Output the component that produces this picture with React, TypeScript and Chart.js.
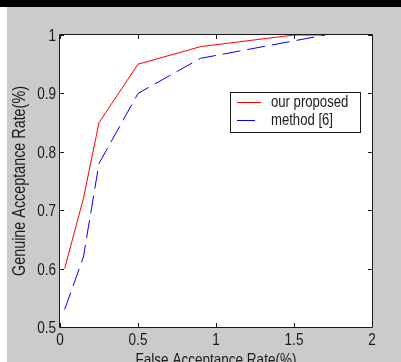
import React, { useEffect, useRef } from "react";
import { Chart, registerables } from "chart.js";

Chart.register(...registerables);

// Tick labels
const xTicks = [0, 0.5, 1, 1.5, 2];
const yTicks = [0.5, 0.6, 0.7, 0.8, 0.9, 1];

// Series: False Acceptance Rate (x) vs Genuine Acceptance Rate (y)
const farProposed = [0.03, 0.15, 0.25, 0.5, 0.9, 1.5, 1.7];
const garProposed = [0.6, 0.72, 0.85, 0.95, 0.98, 1.0, 1.0];
const farMethod6 = [0.03, 0.15, 0.25, 0.5, 0.9, 1.7];
const garMethod6 = [0.53, 0.62, 0.78, 0.9, 0.96, 1.0];

const seriesLabels = ["our proposed", "method [6]"];
const seriesColors = ["#ff0000", "#0000ff"];
const seriesDash = [[], [18, 7]];
const xTitle = "False Acceptance Rate(%)";
const yTitle = "Genuine Acceptance Rate(%)";

const FONT = "'Liberation Sans', Arial, Helvetica, sans-serif";
const INK = "#1a1a1a";
const SQUEEZE = 0.82; // narrow, tall glyphs like the original's screen font

const fmt = (v: number) => String(+Number(v).toFixed(2));

function narrowText(
  ctx: CanvasRenderingContext2D,
  text: string,
  x: number,
  y: number,
  size: number,
  align: CanvasTextAlign,
  baseline: CanvasTextBaseline,
  rotate = 0
) {
  ctx.save();
  ctx.translate(x, y);
  if (rotate) ctx.rotate(rotate);
  ctx.scale(SQUEEZE, 1);
  ctx.font = `${size}px ${FONT}`;
  ctx.fillStyle = INK;
  ctx.textAlign = align;
  ctx.textBaseline = baseline;
  ctx.fillText(text, 0, 0);
  ctx.restore();
}

export default function App() {
  const ref = useRef<HTMLCanvasElement>(null);

  useEffect(() => {
    const canvas = ref.current;
    if (!canvas) return;

    const frame = {
      id: "frame",
      afterDatasetsDraw(chart: any) {
        const { ctx, chartArea } = chart;
        const { left, right, top, bottom } = chartArea;
        const xs = chart.scales.x;
        const ys = chart.scales.y;
        ctx.save();
        ctx.strokeStyle = INK;
        ctx.lineWidth = 1;
        ctx.setLineDash([]);
        ctx.beginPath();
        ctx.rect(Math.round(left) - 0.5, Math.round(top) - 0.5, Math.round(right - left) + 1, Math.round(bottom - top) + 1);
        ctx.stroke();
        const tl = 4;
        ctx.beginPath();
        xTicks.forEach((v) => {
          const px = Math.round(xs.getPixelForValue(v)) + 0.5;
          ctx.moveTo(px, bottom);
          ctx.lineTo(px, bottom - tl);
          ctx.moveTo(px, top);
          ctx.lineTo(px, top + tl);
        });
        yTicks.forEach((v) => {
          const py = Math.round(ys.getPixelForValue(v)) + 0.5;
          ctx.moveTo(left, py);
          ctx.lineTo(left + tl, py);
          ctx.moveTo(right, py);
          ctx.lineTo(right - tl, py);
        });
        ctx.stroke();
        ctx.restore();
      },
    };

    const axisText = {
      id: "axisText",
      afterDraw(chart: any) {
        const { ctx, chartArea } = chart;
        const xs = chart.scales.x;
        const ys = chart.scales.y;
        xTicks.forEach((v) => {
          narrowText(ctx, fmt(v), xs.getPixelForValue(v), chartArea.bottom + 18, 16.5, "center", "alphabetic");
        });
        yTicks.forEach((v) => {
          narrowText(ctx, fmt(v), chartArea.left - 4, ys.getPixelForValue(v) + 6, 16.5, "right", "alphabetic");
        });
        narrowText(ctx, xTitle, (chartArea.left + chartArea.right) / 2, chartArea.bottom + 38, 16.5, "center", "alphabetic");
        narrowText(ctx, yTitle, 20.5, (chartArea.top + chartArea.bottom) / 2, 17.5, "center", "middle", -Math.PI / 2);
      },
    };

    const legendBox = {
      id: "legendBox",
      afterDraw(chart: any) {
        const { ctx } = chart;
        const bx = 230.5, by = 92.5, bw = 130, bh = 40;
        ctx.save();
        ctx.setLineDash([]);
        ctx.fillStyle = "#ffffff";
        ctx.fillRect(bx, by, bw, bh);
        ctx.strokeStyle = INK;
        ctx.lineWidth = 1;
        ctx.strokeRect(bx, by, bw, bh);
        const rows = [102.5, 120.5];
        seriesLabels.forEach((label, i) => {
          ctx.beginPath();
          ctx.strokeStyle = seriesColors[i];
          ctx.lineWidth = 1;
          ctx.setLineDash(seriesDash[i]);
          ctx.moveTo(237, rows[i]);
          ctx.lineTo(261, rows[i]);
          ctx.stroke();
          ctx.setLineDash([]);
          narrowText(ctx, label, 271, rows[i], 16, "left", "middle");
        });
        ctx.restore();
      },
    };

    const chart = new Chart(canvas, {
      type: "line",
      data: {
        datasets: [
          {
            label: seriesLabels[0],
            data: farProposed.map((x, i) => ({ x, y: garProposed[i] })),
            borderColor: seriesColors[0],
            borderWidth: 1,
            borderDash: seriesDash[0],
            pointRadius: 0,
            tension: 0,
            fill: false,
          },
          {
            label: seriesLabels[1],
            data: farMethod6.map((x, i) => ({ x, y: garMethod6[i] })),
            borderColor: seriesColors[1],
            borderWidth: 1,
            borderDash: seriesDash[1],
            pointRadius: 0,
            tension: 0,
            fill: false,
          },
        ],
      },
      options: {
        animation: false,
        responsive: false,
        maintainAspectRatio: false,
        layout: { padding: { top: 35, right: 29, left: 0, bottom: 0 } },
        scales: {
          x: {
            type: "linear",
            min: 0,
            max: 2,
            afterBuildTicks: (s: any) => {
              s.ticks = xTicks.map((v) => ({ value: v }));
            },
            afterFit: (s: any) => {
              s.height = 45;
            },
            grid: { display: false },
            border: { display: false },
            ticks: { display: false },
            title: { display: false, text: xTitle },
          },
          y: {
            type: "linear",
            min: 0.5,
            max: 1,
            afterBuildTicks: (s: any) => {
              s.ticks = yTicks.map((v) => ({ value: v }));
            },
            afterFit: (s: any) => {
              s.width = 60;
            },
            grid: { display: false },
            border: { display: false },
            ticks: { display: false },
            title: { display: false, text: yTitle },
          },
        },
        plugins: {
          legend: { display: false },
          tooltip: { enabled: false },
        },
      },
      plugins: [
        {
          id: "plotBg",
          beforeDraw(chart: any) {
            const { ctx, chartArea } = chart;
            ctx.save();
            ctx.fillStyle = "#ffffff";
            ctx.fillRect(chartArea.left, chartArea.top, chartArea.right - chartArea.left, chartArea.bottom - chartArea.top);
            ctx.restore();
          },
        },
        frame,
        axisText,
        legendBox,
      ],
    } as any);

    return () => chart.destroy();
  }, []);

  return (
    <div
      style={{
        position: "absolute",
        left: 0,
        top: 0,
        width: 401,
        height: 362,
        overflow: "hidden",
        background: "#cbcbcb",
      }}
    >
      <div style={{ position: "absolute", left: 0, top: 0, width: 401, height: 7, background: "#000" }} />
      <div style={{ position: "absolute", left: 0, top: 7, width: 7, height: 355, background: "#ffffff" }} />
      <canvas
        ref={ref}
        width={401}
        height={372}
        style={{ position: "absolute", left: 0, top: 0, display: "block", width: 401, height: 372 }}
      />
    </div>
  );
}
